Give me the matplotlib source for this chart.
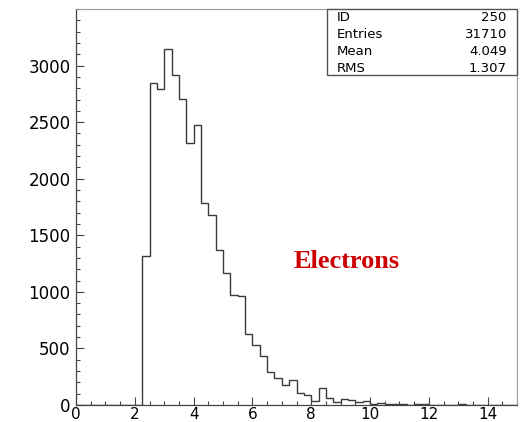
import numpy as np
import matplotlib
matplotlib.use("Agg")
import matplotlib.pyplot as plt
from matplotlib.ticker import MultipleLocator, FixedLocator
from matplotlib.patches import Rectangle

# Histogram definition: 60 bins of width 0.25 from 0 to 15
x_low = 0.0
x_high = 15.0
n_bins = 60

counts = [
    0, 0, 0, 0, 0, 0, 0, 0, 0,            # 0.00 - 2.25
    1320, 2850, 2795, 3150, 2915, 2706,   # 2.25 - 3.75
    2318, 2471, 1788, 1682, 1373, 1171,   # 3.75 - 5.25
    973, 962, 626, 532, 429, 291,         # 5.25 - 6.75
    241, 179, 221, 103, 85, 37,           # 6.75 - 8.25
    153, 59, 29, 50, 46, 29,              # 8.25 - 9.75
    38, 5, 15, 12, 6, 8,                  # 9.75 - 11.25
    3, 5, 8, 3, 2, 3,                     # 11.25 - 12.75
    2, 8, 3, 2, 1, 1,                     # 12.75 - 14.25
    0, 0, 0,                              # 14.25 - 15.00
]

y_major_ticks = [0, 500, 1000, 1500, 2000, 2500, 3000]

stats_labels = ["ID", "Entries", "Mean", "RMS"]
stats_values = ["250", "31710", "4.049", "1.307"]

label_text = "Electrons"

edges = np.linspace(x_low, x_high, n_bins + 1)

fig = plt.figure(figsize=(5.30, 4.22), dpi=100)
ax = fig.add_axes([0.1434, 0.0403, 0.8321, 0.9384])

ax.stairs(counts, edges, color="#3a3a3a", linewidth=1.0)

ax.set_xlim(x_low, x_high)
ax.set_ylim(0, 3500)

ax.xaxis.set_major_locator(MultipleLocator(2))
ax.xaxis.set_minor_locator(MultipleLocator(0.5))
ax.yaxis.set_major_locator(FixedLocator(y_major_ticks))
ax.yaxis.set_minor_locator(MultipleLocator(100))

ax.tick_params(which="both", direction="in", top=False, right=False,
               colors="#444444", width=0.8)
ax.tick_params(which="major", length=6, labelcolor="black")
ax.tick_params(which="minor", length=3)
ax.tick_params(axis="x", which="major", pad=1.5, labelsize=11)
ax.tick_params(axis="y", which="major", pad=4, labelsize=12)

for side in ["left", "bottom"]:
    ax.spines[side].set_color("#444444")
    ax.spines[side].set_linewidth(0.9)
for side in ["top", "right"]:
    ax.spines[side].set_color("#999999")
    ax.spines[side].set_linewidth(0.8)

# Stats box (top-right)
bx0, by0 = 0.569, 0.8335
ax.add_patch(Rectangle((bx0, by0), 1.0 - bx0, 1.0 - by0, transform=ax.transAxes,
                       facecolor="white", edgecolor="#555555", linewidth=1.0,
                       zorder=5, clip_on=False))
row_y = [0.978, 0.935, 0.892, 0.849]
for lab, val, yy in zip(stats_labels, stats_values, row_y):
    ax.text(0.592, yy, lab, transform=ax.transAxes, fontsize=9.5,
            ha="left", va="center", color="black", zorder=6)
    ax.text(0.977, yy, val, transform=ax.transAxes, fontsize=9.5,
            ha="right", va="center", color="black", zorder=6)

ax.text(9.2, 1265, label_text, color="#cc0000", fontsize=19, fontweight="bold",
        family=["Liberation Serif", "DejaVu Serif"], ha="center", va="center")

fig.savefig("out.png", dpi=100)
